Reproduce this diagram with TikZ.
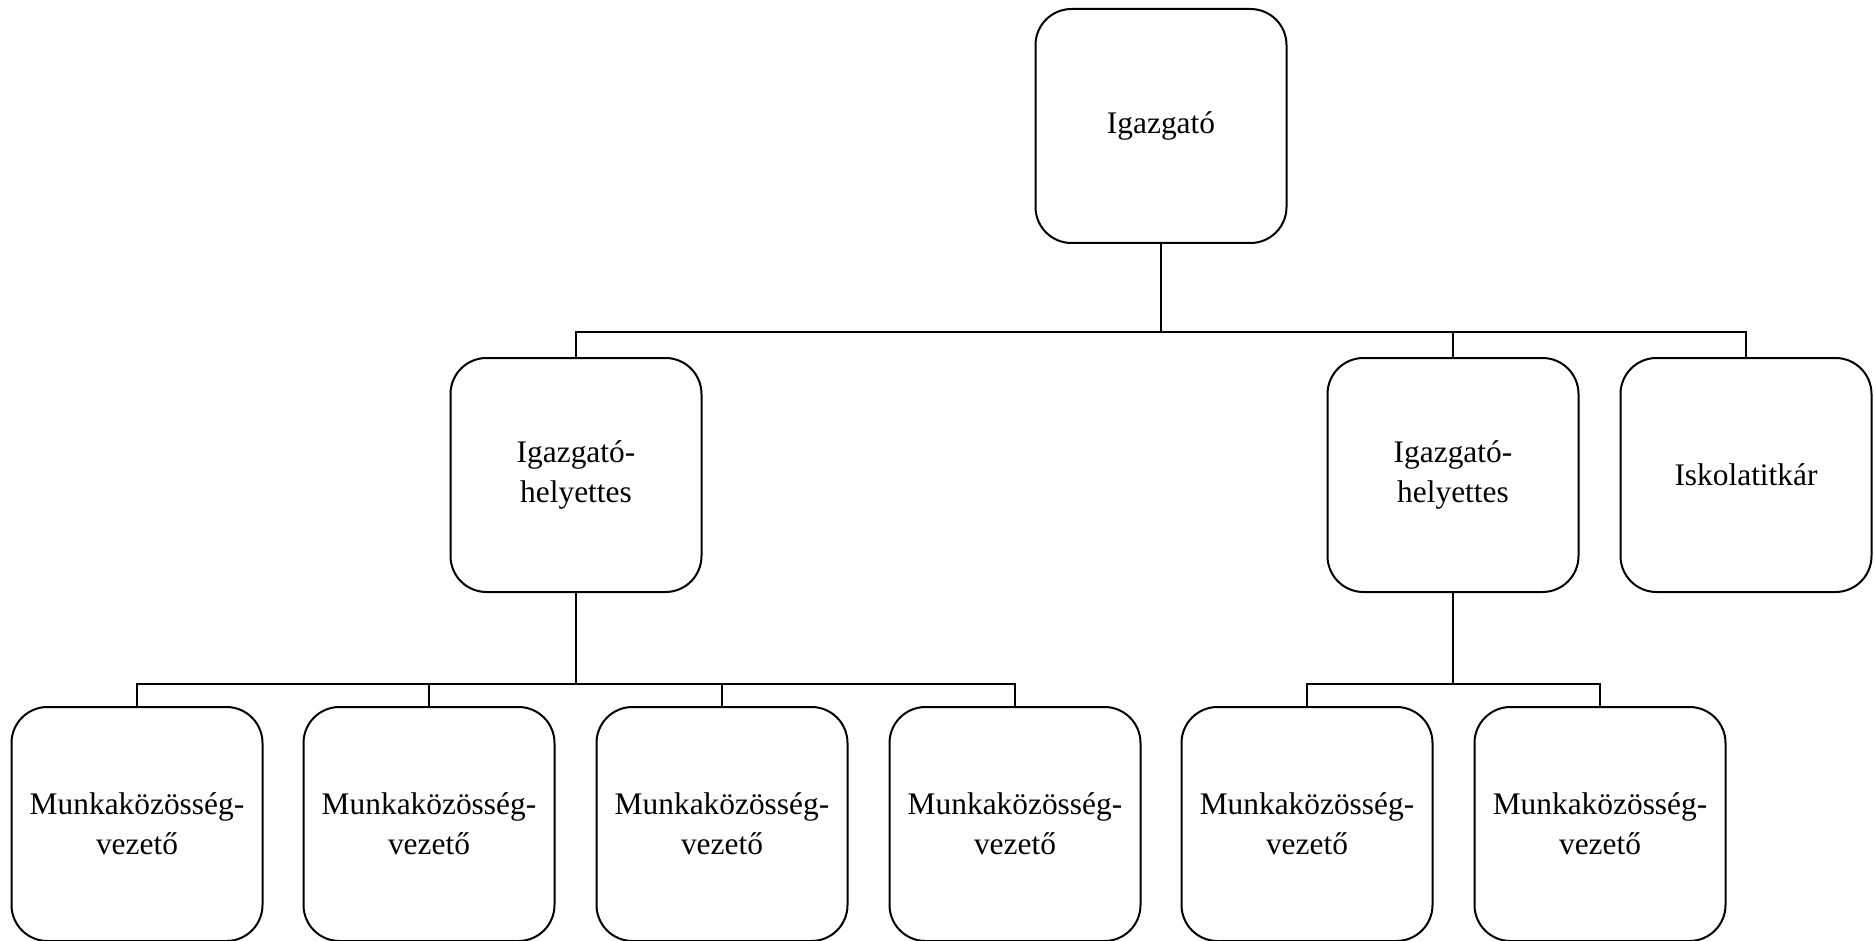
\documentclass[tikz,border=0pt]{standalone}
\usepackage{fontspec}
\setmainfont{Liberation Serif}

\begin{document}
\begin{tikzpicture}
  [x=0.5pt,y=-0.5pt,line width=1pt,
   every node/.style={draw=black, rounded corners=18pt, minimum width=125.5pt,
     minimum height=117pt, align=center, inner sep=0pt,
     font=\fontsize{15.7}{20}\selectfont}]
  \useasboundingbox (0,0) rectangle (1874,941);
  \node (ig) at (1161,126) {Igazgató};
  \node (h1) at (576,475)  {Igazgató-\\helyettes};
  \node (h2) at (1453,475) {Igazgató-\\helyettes};
  \node (tk) at (1746,475) {Iskolatitkár};
  \node (m1) at (137,824)  {Munkaközösség-\\vezető};
  \node (m2) at (429,824)  {Munkaközösség-\\vezető};
  \node (m3) at (722,824)  {Munkaközösség-\\vezető};
  \node (m4) at (1015,824) {Munkaközösség-\\vezető};
  \node (m5) at (1307,824) {Munkaközösség-\\vezető};
  \node (m6) at (1600,824) {Munkaközösség-\\vezető};

  \coordinate (b0) at (1161,332);
  \coordinate (b1) at (576,684);
  \coordinate (b2) at (1453,684);

  \draw (ig) -- (b0);
  \draw (h1) -- (b1);
  \draw (h2) -- (b2);
  \foreach \to in {h1,h2,tk}
    \draw (b0) -| (\to);
  \foreach \to in {m1,m2,m3,m4}
    \draw (b1) -| (\to);
  \foreach \to in {m5,m6}
    \draw (b2) -| (\to);
\end{tikzpicture}
\end{document}
